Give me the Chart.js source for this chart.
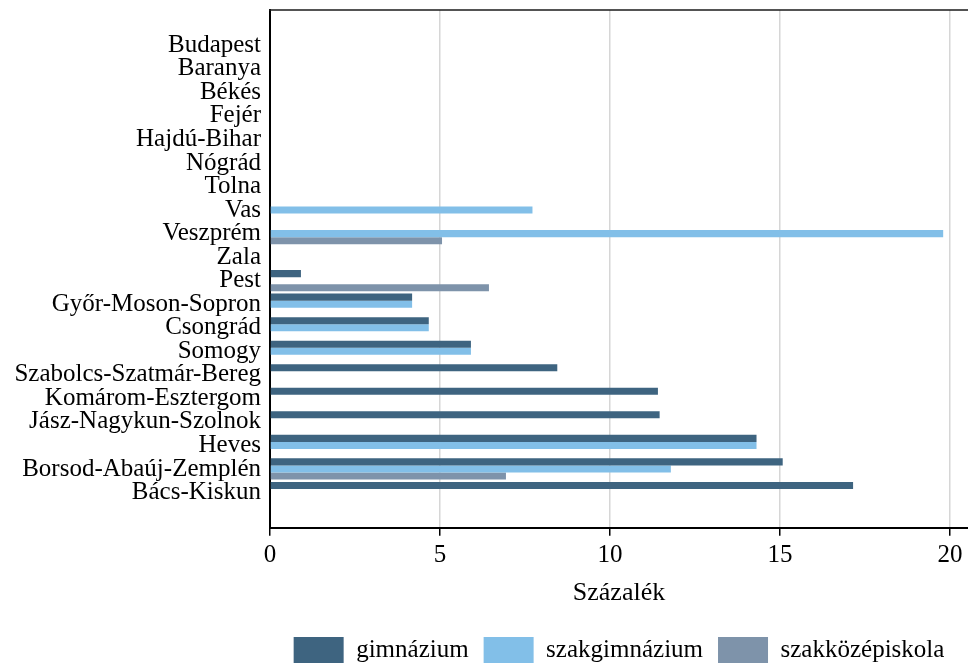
<!DOCTYPE html>
<html>
<head>
<meta charset="utf-8">
<script src="https://cdn.jsdelivr.net/npm/chart.js@4"></script>
<style>
html,body{margin:0;padding:0;background:#fff;}
#wrap{width:968px;height:668px;}
</style>
</head>
<body>
<div id="wrap"><canvas id="c" width="968" height="668"></canvas></div>
<script>
const categories = ['Budapest','Baranya','Békés','Fejér','Hajdú-Bihar','Nógrád','Tolna','Vas','Veszprém','Zala','Pest','Győr-Moson-Sopron','Csongrád','Somogy','Szabolcs-Szatmár-Bereg','Komárom-Esztergom','Jász-Nagykun-Szolnok','Heves','Borsod-Abaúj-Zemplén','Bács-Kiskun'];
const gimnazium =       [0,0,0,0,0,0,0,0,0,0,0.91,4.18,4.67,5.91,8.45,11.41,11.46,14.31,15.08,17.15];
const szakgimnazium =   [0,0,0,0,0,0,0,7.72,19.80,0,0,4.18,4.67,5.91,0,0,0,14.31,11.79,0];
const szakkozepiskola = [0,0,0,0,0,0,0,0,5.06,0,6.44,0,0,0,0,0,0,0,6.94,0];
const xTicks = [0,5,10,15,20];
const seriesNames = ['gimnázium','szakgimnázium','szakközépiskola'];
const colors = ['#3e6480','#82bfe8','#7e93aa'];

const pad = arr => [null, ...arr, null];
const labels = ['', ...categories, ''];

const topLine = {
  id:'topLine',
  afterDraw(chart){
    const a = chart.chartArea, ctx = chart.ctx;
    ctx.save();
    ctx.strokeStyle = '#1a1a1a';
    ctx.lineWidth = 1.5;
    ctx.beginPath();
    ctx.moveTo(a.left-1, a.top);
    ctx.lineTo(a.right, a.top);
    ctx.stroke();
    ctx.restore();
  }
};

const serif = 'Liberation Serif, Times New Roman, serif';
new Chart(document.getElementById('c'), {
  type:'bar',
  data:{
    labels: labels,
    datasets:[
      {label:seriesNames[0], data:pad(gimnazium), backgroundColor:colors[0]},
      {label:seriesNames[1], data:pad(szakgimnazium), backgroundColor:colors[1]},
      {label:seriesNames[2], data:pad(szakkozepiskola), backgroundColor:colors[2]}
    ]
  },
  options:{
    indexAxis:'y',
    responsive:false,
    animation:false,
    devicePixelRatio:1,
    layout:{padding:{top:10,right:0,left:0,bottom:-5}},
    datasets:{bar:{categoryPercentage:0.9,barPercentage:1.0,borderWidth:0}},
    scales:{
      x:{
        min:0,max:20.53,
        afterBuildTicks(s){ s.ticks = xTicks.map(v=>({value:v})); },
        afterFit(s){ s.height -= 4; },
        ticks:{includeBounds:false,color:'#000',font:{family:serif,size:25},padding:5,maxRotation:0},
        grid:{color:'#d6d6d6',lineWidth:1.5,tickColor:'#000',tickLength:8,tickWidth:1.5},
        border:{display:true,color:'#000',width:2},
        title:{display:true,text:'Százalék',color:'#000',font:{family:serif,size:26},padding:{top:6,bottom:13}}
      },
      y:{
        afterFit(s){ s.width = 270; s.paddingTop = 0; s.paddingBottom = 0; },
        ticks:{autoSkip:false,color:'#000',font:{family:serif,size:25,lineHeight:1},padding:9},
        grid:{display:false,drawTicks:false},
        border:{display:true,color:'#000',width:2}
      }
    },
    plugins:{
      legend:{
        position:'bottom',
        fullSize:false,
        labels:{boxWidth:50,boxHeight:26,color:'#000',font:{family:serif,size:25},padding:15}
      },
      tooltip:{enabled:false}
    }
  },
  plugins:[topLine]
});
</script>
</body>
</html>
